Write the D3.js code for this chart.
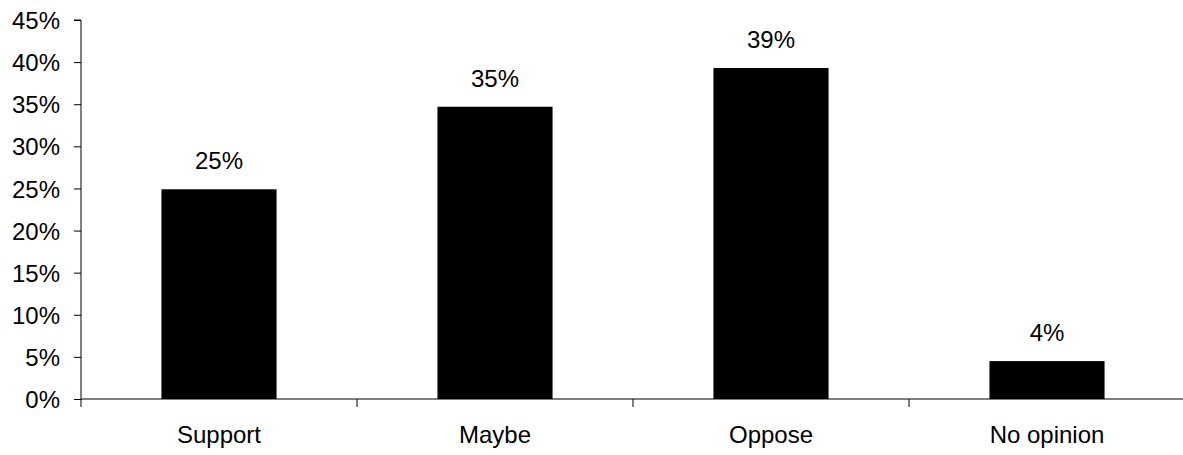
<!DOCTYPE html>
<html><head><meta charset="utf-8">
<script src="https://cdn.jsdelivr.net/npm/d3@7"></script>
<style>
body{margin:0;background:#fff;}
text{font-family:"Liberation Sans",Arial,sans-serif;fill:#000;}
</style></head>
<body><svg id="c" width="1183" height="455"></svg>
<script>
const categories = ["Support","Maybe","Oppose","No opinion"];
const values = [24.9, 34.7, 39.3, 4.5];
const valueLabels = ["25%","35%","39%","4%"];
const yTicks = [0,5,10,15,20,25,30,35,40,45];

const svg = d3.select("#c");
const x0 = 81, x1 = 1185, yTop = 20, yBot = 399;
const FS = 24;
const x = d3.scaleBand().domain(categories).range([x0, x1]).paddingInner(0).paddingOuter(0);
const y = d3.scaleLinear().domain([0,45]).range([yBot, yTop]);
const barW = x.bandwidth()*0.417;

// y axis
const ya = svg.append("g").attr("transform",`translate(${x0},0)`)
  .call(d3.axisLeft(y).tickValues(yTicks).tickFormat(d=>d+"%").tickSize(7).tickPadding(14));
ya.select(".domain").attr("d",`M-7,${yTop}H0V${yBot}`).attr("stroke","#000");
ya.selectAll("line").attr("stroke","#000");
ya.selectAll("text").attr("font-size",FS).attr("font-family","Liberation Sans, Arial, sans-serif").attr("dy","0.36em");

// bars
svg.append("g").selectAll("rect").data(categories).join("rect")
  .attr("x",d=>x(d)+x.bandwidth()/2-barW/2)
  .attr("width",barW)
  .attr("y",(d,i)=>y(values[i]))
  .attr("height",(d,i)=>yBot-y(values[i]))
  .attr("fill","#000");

// x axis
const xa = svg.append("g").attr("transform",`translate(0,${yBot})`);
xa.append("line").attr("x1",x0).attr("x2",1183).attr("y1",0).attr("y2",0).attr("stroke","#000");
const bounds = categories.map(c=>x(c)).concat([x1]);
xa.selectAll("line.t").data(bounds).join("line").attr("class","t")
  .attr("x1",d=>d).attr("x2",d=>d).attr("y1",0).attr("y2",8).attr("stroke","#000");
xa.selectAll("text").data(categories).join("text")
  .attr("x",d=>x(d)+x.bandwidth()/2).attr("y",44)
  .attr("text-anchor","middle").attr("font-size",FS).text(d=>d);

// value labels
svg.append("g").selectAll("text").data(categories).join("text")
  .attr("x",d=>x(d)+x.bandwidth()/2)
  .attr("y",(d,i)=>y(values[i])-20)
  .attr("text-anchor","middle").attr("font-size",FS)
  .text((d,i)=>valueLabels[i]);
</script></body></html>
